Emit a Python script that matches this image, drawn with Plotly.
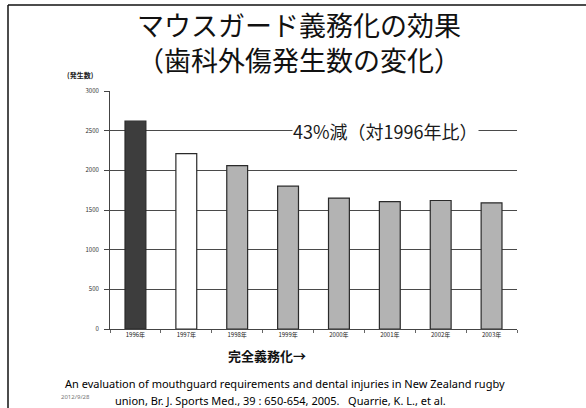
import plotly.graph_objects as go

# Dental injury counts before/after mandatory mouthguards (NZ rugby union)
years = ["1996年", "1997年", "1998年", "1999年", "2000年", "2001年", "2002年", "2003年"]
injuries = [2620, 2210, 2060, 1800, 1650, 1605, 1620, 1590]
bar_colors = ["#3d3d3d", "#ffffff", "#b3b3b3", "#b3b3b3", "#b3b3b3", "#b3b3b3", "#b3b3b3", "#b3b3b3"]
y_ticks = [0, 500, 1000, 1500, 2000, 2500, 3000]

W, H = 586, 408
ML, MR, MT, MB = 110, 69, 91, 79
PW, PH = W - ML - MR, H - MT - MB


def px(x):
    return (x - ML) / PW


def py(y):
    return (H - MB - y) / PH


JP = "Noto Sans CJK JP"

fig = go.Figure(
    go.Bar(
        x=years,
        y=injuries,
        marker=dict(color=bar_colors, line=dict(color="#2a2a2a", width=1.2)),
        width=0.41,
    )
)

fig.update_layout(
    width=W,
    height=H,
    margin=dict(l=ML, r=MR, t=MT, b=MB),
    paper_bgcolor="white",
    plot_bgcolor="white",
    showlegend=False,
    font=dict(family=JP, color="#111111"),
)

fig.update_yaxes(
    range=[0, 3000],
    tickvals=y_ticks,
    ticktext=[str(v) for v in y_ticks],
    tickfont=dict(size=6, color="#333333"),
    showgrid=True,
    gridcolor="#4a4a4a",
    gridwidth=1.1,
    showline=True,
    linecolor="#444444",
    linewidth=1,
    ticks="outside",
    ticklen=5,
    tickcolor="#444444",
    zeroline=False,
    ticklabelstandoff=4,
)

fig.update_xaxes(
    showline=True,
    linecolor="#444444",
    linewidth=1,
    ticks="outside",
    tickson="boundaries",
    ticklen=3,
    tickcolor="#666666",
    tickfont=dict(size=6, color="#222222"),
)

annotations = [
    dict(text="マウスガード義務化の効果<br>（歯科外傷発生数の変化）", x=px(299), y=py(42),
         font=dict(size=27, color="#111111")),
    dict(text="<b>(発生数)</b>", x=px(80), y=py(75), font=dict(size=7, color="#222222")),
    dict(text="43%減（対1996年比）", x=px(385), y=py(131), font=dict(size=18, color="#1a1a1a"),
         bgcolor="white", borderpad=0),
    dict(text="<b>完全義務化→</b>", x=px(267), y=py(355), font=dict(size=13, color="#111111")),
    dict(text="An evaluation of mouthguard requirements and dental injuries in New Zealand rugby",
         x=px(285), y=py(383), font=dict(family="Noto Sans", size=11, color="#000000")),
    dict(text="union, Br. J. Sports Med., 39 : 650-654, 2005.   Quarrie, K. L., et al.",
         x=px(280), y=py(400), font=dict(family="Noto Sans", size=11, color="#000000")),
    dict(text="2012/9/28", x=px(75), y=py(397), font=dict(family="Noto Sans", size=6, color="#777777")),
]
fig.update_layout(
    annotations=[
        dict(a, xref="paper", yref="paper", showarrow=False, xanchor="center", yanchor="middle")
        for a in annotations
    ]
)

# Slide frame: top and left edges
fig.add_shape(type="line", xref="paper", yref="paper",
              x0=px(8), x1=px(W + 2), y0=py(5), y1=py(5), line=dict(color="#111111", width=1.5))
fig.add_shape(type="line", xref="paper", yref="paper",
              x0=px(8), x1=px(8), y0=py(5), y1=py(H + 2), line=dict(color="#111111", width=1.5))

fig.write_html("out.html")
